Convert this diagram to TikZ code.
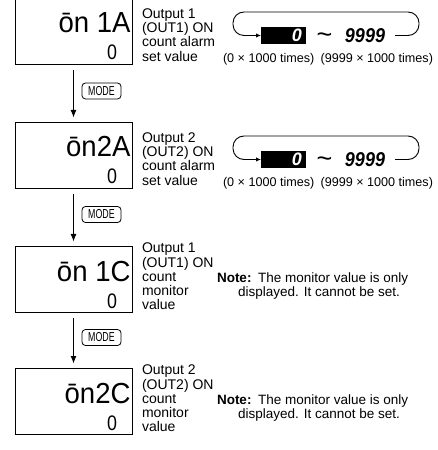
\documentclass[tikz,border=0pt]{standalone}
\usepackage{fontspec}
\setmainfont{Liberation Sans}
\usetikzlibrary{arrows.meta}
\begin{document}
\begin{tikzpicture}[x=1bp,y=-1bp,
  every node/.style={inner sep=0pt, outer sep=0pt},
  disp/.style={draw=black, line width=0.9bp, minimum width=117bp, minimum height=66bp},
  seg/.style={font=\fontsize{29bp}{29bp}\selectfont, anchor=base east},
  segsmall/.style={font=\fontsize{21bp}{21bp}\selectfont, anchor=base east},
  lbl/.style={font=\fontsize{14bp}{14.3bp}\selectfont, align=left, anchor=north west},
  notetxt/.style={font=\fontsize{13.5bp}{14.5bp}\selectfont, anchor=base west},
  modebtn/.style={draw, line width=0.8bp, rounded corners=3.5bp, minimum width=39bp, minimum height=16bp},
  modetxt/.style={font=\fontsize{13bp}{13bp}\selectfont},
  varrow/.style={line width=1.6bp, -{Latex[length=8bp,width=6bp]}, shorten <=6bp, shorten >=4bp},
  blk/.style={fill=black, minimum width=45bp, minimum height=17bp},
  blkdigit/.style={text=white, font=\fontsize{18bp}{18bp}\selectfont\bfseries\itshape, anchor=base east},
  tildetxt/.style={font=\fontsize{27bp}{27bp}\selectfont, anchor=base},
  maxdigit/.style={font=\fontsize{20bp}{20bp}\selectfont\bfseries\itshape},
  captxt/.style={font=\fontsize{12.6bp}{13bp}\selectfont},
  loopline/.style={line width=0.9bp, rounded corners=11bp, -{Latex[length=5bp,width=4.5bp]}}
]
\useasboundingbox (0,0) rectangle (438,450);

% display boxes
\node[disp] (d1) at (73.5,31) {};
\node[disp] (d2) at (73.5,155) {};
\node[disp] (d3) at (73.5,279) {};
\node[disp] (d4) at (73.5,401) {};

% display contents
\node[seg] (s1) at (130.5,33) {\scalebox{0.95}[1]{ōn 1A}};
\node[segsmall] (v1) at (117,60) {\scalebox{0.85}[1]{0}};
\node[seg] (s2) at (130.5,157) {\scalebox{0.95}[1]{ōn2A}};
\node[segsmall] (v2) at (117,184) {\scalebox{0.85}[1]{0}};
\node[seg] (s3) at (130.5,281) {\scalebox{0.95}[1]{ōn 1C}};
\node[segsmall] (v3) at (117,308) {\scalebox{0.85}[1]{0}};
\node[seg] (s4) at (130.5,403) {\scalebox{0.95}[1]{ōn2C}};
\node[segsmall] (v4) at (117,430) {\scalebox{0.85}[1]{0}};

% labels
\node[lbl] (l1) at (142,8.5) {Output 1\\(OUT1) ON\\count alarm\\set value};
\node[lbl] (l2) at (142,132.5) {Output 2\\(OUT2) ON\\count alarm\\set value};
\node[lbl] (l3) at (142,243) {Output 1\\(OUT1) ON\\count\\monitor\\value};
\node[lbl] (l4) at (142,365) {Output 2\\(OUT2) ON\\count\\monitor\\value};

% notes
\node[notetxt] (n3a) at (217,282) {\bfseries Note:};
\node[notetxt] (n3b) at (258,282) {The monitor value is only};
\node[notetxt] (n3c) at (238,296.5) {displayed. It cannot be set.};
\node[notetxt] (n4a) at (217,404) {\bfseries Note:};
\node[notetxt] (n4b) at (258,404) {The monitor value is only};
\node[notetxt] (n4c) at (238,418.5) {displayed. It cannot be set.};

% arrows and MODE keys
\draw[varrow] (d1) -- (d2);
\draw[varrow] (d2) -- (d3);
\draw[varrow] (d3) -- (d4);
\node[modebtn, modetxt] (m1) at (101.5,91) {\scalebox{0.68}[1]{MODE}};
\node[modebtn, modetxt] (m2) at (101.5,214.5) {\scalebox{0.68}[1]{MODE}};
\node[modebtn, modetxt] (m3) at (101.5,337.5) {\scalebox{0.68}[1]{MODE}};

% setting range, row 1
\node[blk] (b1) at (283.5,35.5) {};
\node[blkdigit] (z1) at (302,42) {0};
\node[tildetxt] (t1) at (324.5,44) {\char"007E};
\node[maxdigit] (x1) at (365,35.5) {\scalebox{0.9}[1]{9999}};
\node[captxt, anchor=base west] (c1a) at (223,63) {(0 × 1000 times)};
\node[captxt, anchor=base east] (c1b) at (433,63) {(9999 × 1000 times)};
\coordinate (r1) at (419,12);
\coordinate (q1) at (233,12);
\draw[loopline] ([xshift=10bp]x1.east) -| (r1) -- (q1) |- (b1.west);

% setting range, row 2
\node[blk] (b2) at (283.5,159.5) {};
\node[blkdigit] (z2) at (302,166) {0};
\node[tildetxt] (t2) at (324.5,168) {\char"007E};
\node[maxdigit] (x2) at (365,159.5) {\scalebox{0.9}[1]{9999}};
\node[captxt, anchor=base west] (c2a) at (223,187) {(0 × 1000 times)};
\node[captxt, anchor=base east] (c2b) at (433,187) {(9999 × 1000 times)};
\coordinate (r2) at (419,136);
\coordinate (q2) at (233,136);
\draw[loopline] ([xshift=10bp]x2.east) -| (r2) -- (q2) |- (b2.west);
\end{tikzpicture}
\end{document}
